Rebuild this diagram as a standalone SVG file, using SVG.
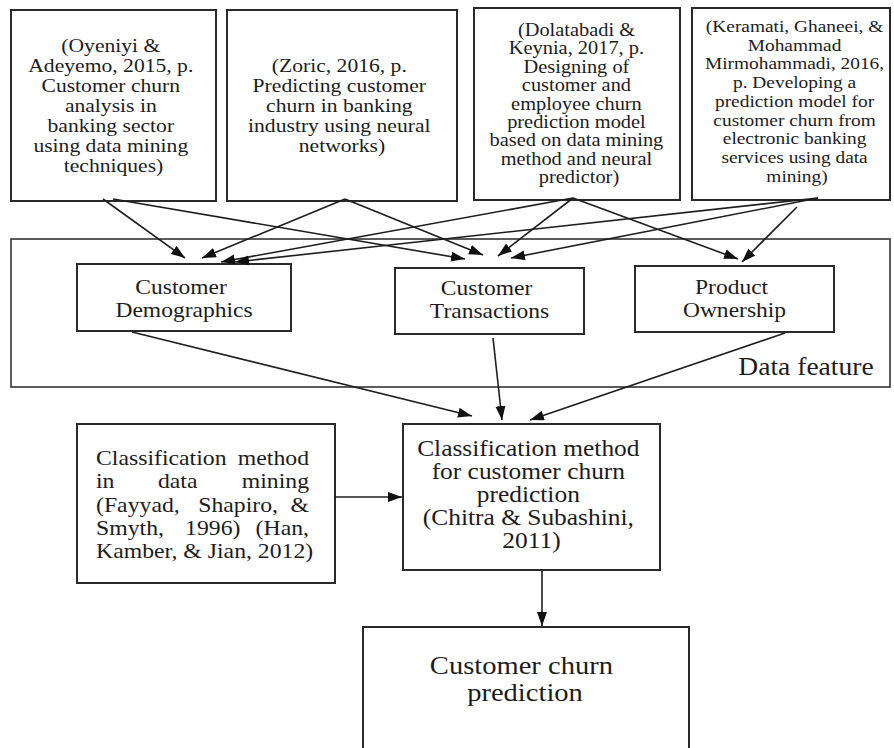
<svg xmlns="http://www.w3.org/2000/svg" width="894" height="748" viewBox="0 0 894 748">
  <style>
    .box { fill: #ffffff; stroke: #2a2a2a; stroke-width: 2; }
    .frame { fill: none; stroke: #333333; stroke-width: 1.6; }
    .t { font-family: "Liberation Serif", "Times New Roman", serif; fill: #1c1c1c; text-anchor: middle; }
    .j { font-family: "Liberation Serif", "Times New Roman", serif; fill: #1c1c1c; }
    .e { text-anchor: end; }
    .link { stroke: #1e1e1e; stroke-width: 1.6; fill: none; marker-end: url(#head); }
  </style>
  <defs>
    <marker id="head" markerUnits="userSpaceOnUse" markerWidth="16" markerHeight="12" refX="14" refY="5" orient="auto">
      <path d="M0,0 L14,5 L0,10 z" fill="#111111"/>
    </marker>
  </defs>
  <rect width="894" height="748" fill="#ffffff"/>

  <!-- data feature frame -->
  <g id="data-feature">
    <rect class="frame" x="11" y="239" width="879" height="148"/>
    <text class="t" font-size="24.6" transform="translate(806 0) scale(1.12 1)" x="0" y="375">Data feature</text>
  </g>

  <!-- source references -->
  <g id="ref-oyeniyi">
    <rect class="box" x="11" y="10" width="205" height="191"/>
    <text class="t" font-size="19.3" transform="translate(113.5 0) scale(1.12 1)">
      <tspan x="0" y="52">(Oyeniyi &amp;</tspan>
      <tspan x="0" y="72">Adeyemo, 2015, p.</tspan>
      <tspan x="0" y="92">Customer churn</tspan>
      <tspan x="0" y="112">analysis in</tspan>
      <tspan x="0" y="132">banking sector</tspan>
      <tspan x="0" y="152">using data mining</tspan>
      <tspan x="0" y="172">techniques)</tspan>
    </text>
  </g>

  <g id="ref-zoric">
    <rect class="box" x="227" y="10" width="230" height="191"/>
    <text class="t" font-size="19.3" transform="translate(342 0) scale(1.12 1)">
      <tspan x="0" y="72">(Zoric, 2016, p.</tspan>
      <tspan x="0" y="92">Predicting customer</tspan>
      <tspan x="0" y="112">churn in banking</tspan>
      <tspan x="0" y="132">industry using neural</tspan>
      <tspan x="0" y="152">networks)</tspan>
    </text>
  </g>

  <g id="ref-dolatabadi">
    <rect class="box" x="474" y="8" width="206" height="192"/>
    <text class="t" font-size="18.2" transform="translate(579 0) scale(1.12 1)">
      <tspan x="0" y="36">(Dolatabadi &amp;</tspan>
      <tspan x="0" y="54.4">Keynia, 2017, p.</tspan>
      <tspan x="0" y="72.8">Designing of</tspan>
      <tspan x="0" y="91.2">customer and</tspan>
      <tspan x="0" y="109.6">employee churn</tspan>
      <tspan x="0" y="128">prediction model</tspan>
      <tspan x="0" y="146.4">based on data mining</tspan>
      <tspan x="0" y="164.8">method and neural</tspan>
      <tspan x="0" y="183.2">predictor)</tspan>
    </text>
  </g>

  <g id="ref-keramati">
    <rect class="box" x="692" y="8" width="198" height="192"/>
    <text class="t" font-size="17.3" transform="translate(797 0) scale(1.12 1)">
      <tspan x="0" y="32">(Keramati, Ghaneei, &amp;</tspan>
      <tspan x="0" y="50.75">Mohammad</tspan>
      <tspan x="0" y="69.5">Mirmohammadi, 2016,</tspan>
      <tspan x="0" y="88.25">p. Developing a</tspan>
      <tspan x="0" y="107">prediction model for</tspan>
      <tspan x="0" y="125.75">customer churn from</tspan>
      <tspan x="0" y="144.5">electronic banking</tspan>
      <tspan x="0" y="163.25">services using data</tspan>
      <tspan x="0" y="182">mining)</tspan>
    </text>
  </g>

  <!-- data features -->
  <g id="customer-demographics">
    <rect class="box" x="77" y="264" width="214" height="67"/>
    <text class="t" font-size="21" transform="translate(184 0) scale(1.12 1)">
      <tspan x="0" y="294">Customer</tspan>
      <tspan x="0" y="317">Demographics</tspan>
    </text>
  </g>

  <g id="customer-transactions">
    <rect class="box" x="395" y="268" width="189" height="66"/>
    <text class="t" font-size="21" transform="translate(489.5 0) scale(1.12 1)">
      <tspan x="0" y="295">Customer</tspan>
      <tspan x="0" y="318">Transactions</tspan>
    </text>
  </g>

  <g id="product-ownership">
    <rect class="box" x="635" y="266" width="199" height="66"/>
    <text class="t" font-size="21" transform="translate(734.5 0) scale(1.12 1)">
      <tspan x="0" y="294">Product</tspan>
      <tspan x="0" y="317">Ownership</tspan>
    </text>
  </g>

  <!-- classification method in data mining (justified) -->
  <g id="classification-data-mining">
    <rect class="box" x="77" y="424" width="258" height="159"/>
    <text class="j" font-size="21.2" transform="translate(96 0) scale(1.12 1)">
      <tspan x="0" y="465">Classification</tspan><tspan class="e" x="195.5" y="465">method</tspan>
      <tspan x="0" y="488">in</tspan><tspan x="55.3" y="488">data</tspan><tspan class="e" x="195.5" y="488">mining</tspan>
      <tspan x="0" y="512">(Fayyad,</tspan><tspan x="91.3" y="512">Shapiro,</tspan><tspan class="e" x="195.5" y="512">&amp;</tspan>
      <tspan x="0" y="535">Smyth,</tspan><tspan x="79.5" y="535">1996)</tspan><tspan class="e" x="195.5" y="535">(Han,</tspan>
      <tspan x="0" y="558">Kamber, &amp; Jian, 2012)</tspan>
    </text>
  </g>

  <g id="classification-churn">
    <rect class="box" x="403" y="424" width="257" height="146"/>
    <text class="t" font-size="22.7" transform="translate(531.5 0) scale(1.12 1)">
      <tspan x="0" y="456">Classification method</tspan>
      <tspan x="0" y="479">for customer churn</tspan>
      <tspan x="0" y="502">prediction</tspan>
      <tspan x="0" y="525">(Chitra &amp; Subashini,</tspan>
      <tspan x="0" y="548">2011)</tspan>
    </text>
  </g>

  <g id="churn-prediction">
    <rect class="box" x="363" y="627" width="326" height="130"/>
    <text class="t" font-size="25.5" transform="translate(525 0) scale(1.12 1)">
      <tspan x="0" y="674">Customer churn</tspan>
      <tspan x="0" y="701">prediction</tspan>
    </text>
  </g>

  <!-- connectors -->
  <g id="connectors">
    <line class="link" x1="103" y1="199" x2="185" y2="258"/>
    <line class="link" x1="113" y1="199" x2="465" y2="259"/>
    <line class="link" x1="345" y1="199" x2="202" y2="258"/>
    <line class="link" x1="345" y1="199" x2="483" y2="255"/>
    <line class="link" x1="573" y1="198" x2="221" y2="262"/>
    <line class="link" x1="573" y1="198" x2="498" y2="256"/>
    <line class="link" x1="573" y1="198" x2="738" y2="259"/>
    <line class="link" x1="818" y1="198" x2="235" y2="262"/>
    <line class="link" x1="818" y1="198" x2="511" y2="258"/>
    <line class="link" x1="797" y1="207" x2="742" y2="262"/>
    <line class="link" x1="132" y1="332" x2="472" y2="416"/>
    <line class="link" x1="493" y1="338" x2="502" y2="420"/>
    <line class="link" x1="785" y1="333" x2="530" y2="420"/>
    <line class="link" x1="335" y1="497" x2="402" y2="497"/>
    <line class="link" x1="542" y1="570" x2="542" y2="626"/>
  </g>
</svg>
